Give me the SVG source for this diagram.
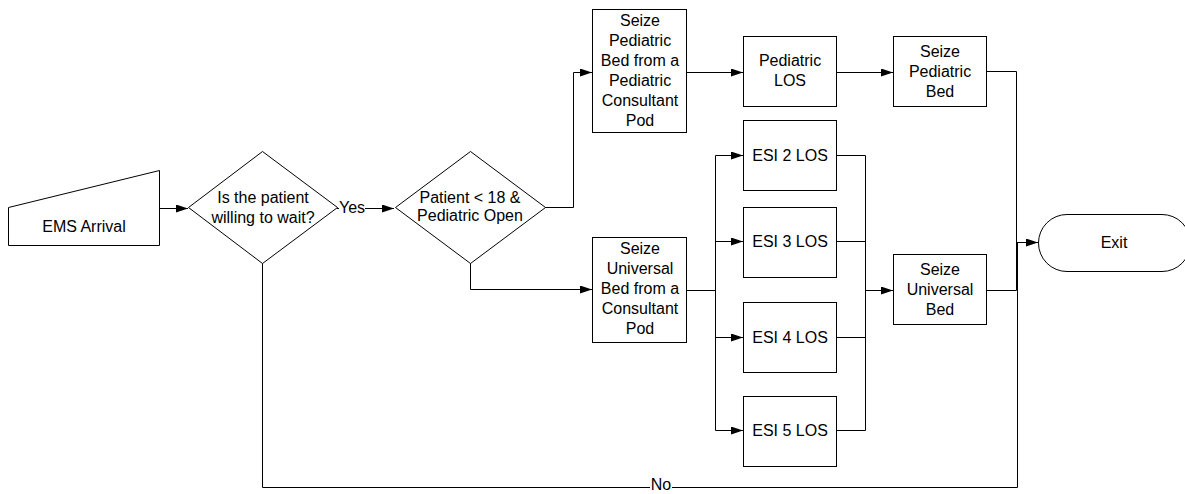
<svg xmlns="http://www.w3.org/2000/svg" width="1185" height="494" viewBox="0 0 1185 494">
<defs>
<marker id="arr" markerWidth="12" markerHeight="8" refX="12" refY="4" orient="auto" markerUnits="userSpaceOnUse">
<path d="M0,0 L12,4 L0,8 Z" fill="#000"/>
</marker>
<style>
.s{fill:#fff;stroke:#000;stroke-width:1}
.t{font-family:"Liberation Sans",Arial,sans-serif;font-size:16px;fill:#000;text-anchor:middle}
.c{fill:none;stroke:#000;stroke-width:1}
.a{marker-end:url(#arr)}
.lb{font-family:"Liberation Sans",Arial,sans-serif;font-size:16px;fill:#000;text-anchor:middle}
</style>
</defs>
<rect width="1185" height="494" fill="#fff"/>
<g id="connectors">
<path class="c a" d="M159.5,208.5 H188"/>
<path class="c a" d="M337,208.5 H394"/>
<path class="c a" d="M545,207.5 H573.5 V72.5 H592"/>
<path class="c a" d="M470.5,263 V289.5 H592"/>
<path class="c a" d="M687,72.5 H743"/>
<path class="c a" d="M837,72.5 H893"/>
<path class="c" d="M687,290.5 H715.5"/>
<path class="c" d="M715.5,155.5 V430.5"/>
<path class="c a" d="M715.5,155.5 H743"/>
<path class="c a" d="M715.5,241.5 H743"/>
<path class="c a" d="M715.5,337.5 H743"/>
<path class="c a" d="M715.5,430.5 H743"/>
<path class="c" d="M837,155.5 H865.5 M837,241.5 H865.5 M837,337.5 H865.5 M837,430.5 H865.5"/>
<path class="c" d="M865.5,155.5 V430.5"/>
<path class="c a" d="M865.5,290.5 H893"/>
<path class="c" d="M987,71.5 H1016.5 V290.5 H987"/>
<path class="c a" d="M1016.5,242.5 H1038"/>
<path class="c" d="M262.5,263 V487.5 H1017.5 V242.5"/>
<rect x="339" y="199" width="26" height="16" fill="#fff"/>
<text class="lb" x="352" y="213">Yes</text>
<rect x="650" y="478" width="22" height="15" fill="#fff"/>
<text class="lb" x="661" y="490">No</text>
</g>
<g id="ems-arrival">
<path class="s" d="M8.5,207.5 L159.5,170.5 V245.5 H8.5 Z"/>
<text class="t" x="84" y="232">EMS Arrival</text>
</g>
<g id="willing-to-wait">
<path class="s" d="M262.5,151.5 L337.5,207.5 L262.5,263.5 L188.5,207.5 Z"/>
<text class="t" x="263" y="203">Is the patient</text>
<text class="t" x="263" y="223">willing to wait?</text>
</g>
<g id="pediatric-open">
<path class="s" d="M470.5,151.5 L545.5,207.5 L470.5,263.5 L395.5,207.5 Z"/>
<text class="t" x="470" y="203">Patient &lt; 18 &amp;</text>
<text class="t" x="470" y="221">Pediatric Open</text>
</g>
<g id="seize-ped-consult">
<rect class="s" x="592.5" y="9.5" width="94" height="123"/>
<text class="t" x="640" y="26">Seize</text>
<text class="t" x="640" y="46">Pediatric</text>
<text class="t" x="640" y="66">Bed from a</text>
<text class="t" x="640" y="86">Pediatric</text>
<text class="t" x="640" y="106">Consultant</text>
<text class="t" x="640" y="126">Pod</text>
</g>
<g id="pediatric-los">
<rect class="s" x="743.5" y="36.5" width="93" height="70"/>
<text class="t" x="790" y="66">Pediatric</text>
<text class="t" x="790" y="86">LOS</text>
</g>
<g id="seize-ped-bed">
<rect class="s" x="893.5" y="36.5" width="93" height="70"/>
<text class="t" x="940" y="57">Seize</text>
<text class="t" x="940" y="77">Pediatric</text>
<text class="t" x="940" y="97">Bed</text>
</g>
<g id="seize-univ-consult">
<rect class="s" x="592.5" y="237.5" width="94" height="105"/>
<text class="t" x="640" y="254">Seize</text>
<text class="t" x="640" y="274">Universal</text>
<text class="t" x="640" y="294">Bed from a</text>
<text class="t" x="640" y="314">Consultant</text>
<text class="t" x="640" y="334">Pod</text>
</g>
<g id="esi2">
<rect class="s" x="743.5" y="120.5" width="93" height="70"/>
<text class="t" x="790" y="161">ESI 2 LOS</text>
</g>
<g id="esi3">
<rect class="s" x="743.5" y="207.5" width="93" height="70"/>
<text class="t" x="790" y="247">ESI 3 LOS</text>
</g>
<g id="esi4">
<rect class="s" x="743.5" y="302.5" width="93" height="70"/>
<text class="t" x="790" y="343">ESI 4 LOS</text>
</g>
<g id="esi5">
<rect class="s" x="743.5" y="396.5" width="93" height="70"/>
<text class="t" x="790" y="436">ESI 5 LOS</text>
</g>
<g id="seize-univ-bed">
<rect class="s" x="893.5" y="254.5" width="93" height="70"/>
<text class="t" x="940" y="275">Seize</text>
<text class="t" x="940" y="295">Universal</text>
<text class="t" x="940" y="315">Bed</text>
</g>
<g id="exit">
<rect class="s" x="1038.5" y="214.5" width="152" height="57" rx="28.5" ry="28.5"/>
<text class="t" x="1114" y="248">Exit</text>
</g>
</svg>
